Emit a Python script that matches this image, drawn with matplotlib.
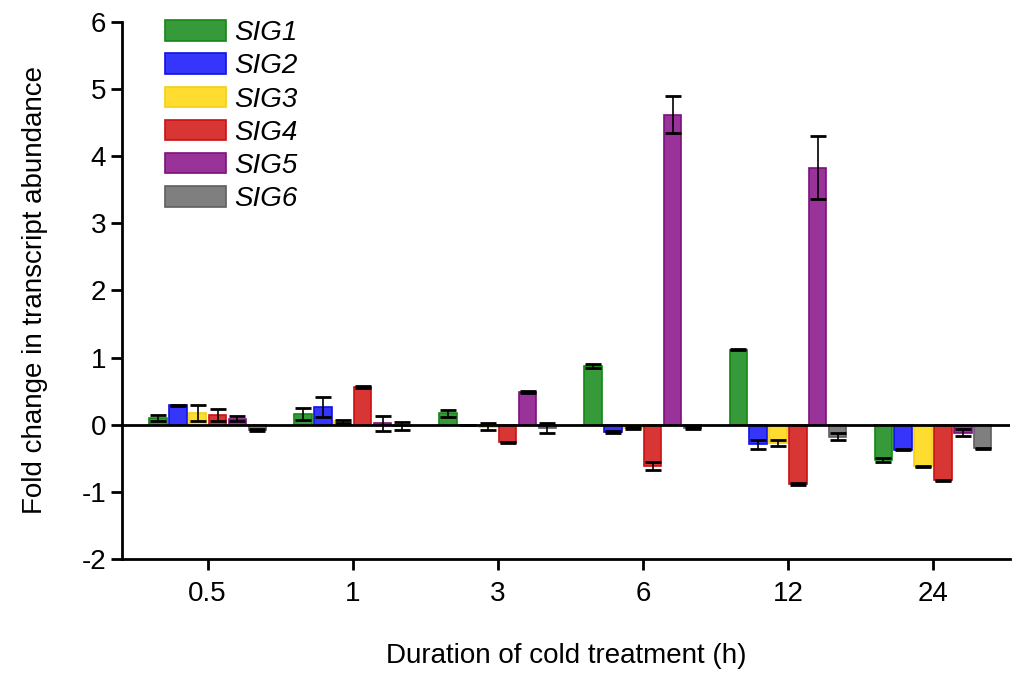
import matplotlib.pyplot as plt
import numpy as np

plt.rcParams['font.family'] = ['Liberation Sans', 'DejaVu Sans']
plt.rcParams['axes.unicode_minus'] = False

# durations (h) and fold change of each SIG gene
durations = ['0.5', '1', '3', '6', '12', '24']
genes = ['SIG1', 'SIG2', 'SIG3', 'SIG4', 'SIG5', 'SIG6']

sig1 = [0.10, 0.16, 0.17, 0.88, 1.12, -0.52]
sig2 = [0.29, 0.27, 0.00, -0.11, -0.29, -0.37]
sig3 = [0.18, 0.05, -0.03, -0.05, -0.27, -0.62]
sig4 = [0.15, 0.56, -0.26, -0.61, -0.88, -0.83]
sig5 = [0.09, 0.02, 0.49, 4.62, 3.83, -0.12]
sig6 = [-0.08, -0.02, -0.05, -0.05, -0.18, -0.35]

err1 = [0.05, 0.09, 0.05, 0.03, 0.01, 0.03]
err2 = [0.01, 0.15, 0.00, 0.01, 0.07, 0.01]
err3 = [0.12, 0.02, 0.05, 0.02, 0.05, 0.01]
err4 = [0.09, 0.01, 0.01, 0.06, 0.01, 0.01]
err5 = [0.04, 0.11, 0.01, 0.27, 0.47, 0.05]
err6 = [0.01, 0.06, 0.07, 0.02, 0.05, 0.01]

values = [sig1, sig2, sig3, sig4, sig5, sig6]
errors = [err1, err2, err3, err4, err5, err6]
fills = ['#36993a', '#3535fb', '#ffdc30', '#d83535', '#993399', '#7f7f7f']
edges = ['#138813', '#1010e8', '#f5cf10', '#cc1010', '#7d107d', '#5f5f5f']

fig = plt.figure(figsize=(10.17, 6.74), dpi=100)
ax = fig.add_axes([0.12, 0.1706, 0.873, 0.7968])

x = np.arange(len(durations))
step = 0.137
w = 0.12
for i in range(6):
    pos = x + (i - 2.5) * step
    ax.bar(pos, values[i], w, color=fills[i], edgecolor=edges[i], linewidth=1.2,
           label=genes[i], zorder=2)
    ax.errorbar(pos, values[i], yerr=errors[i], fmt='none', ecolor='black',
                elinewidth=1.2, capsize=6, capthick=2, zorder=3)

ax.axhline(0, color='black', linewidth=2, zorder=4)

ax.set_xlim(-0.59, 5.53)
ax.set_ylim(-2, 6)
ax.set_xticks(x)
ax.set_xticklabels(durations)
ax.set_yticks(range(-2, 7))
ax.tick_params(axis='both', labelsize=20, width=2, length=8, direction='out')
ax.tick_params(axis='x', pad=8)
for s in ['top', 'right']:
    ax.spines[s].set_visible(False)
for s in ['left', 'bottom']:
    ax.spines[s].set_linewidth(2)

ax.set_ylabel('Fold change in transcript abundance', fontsize=20, labelpad=24)
ax.set_xlabel('Duration of cold treatment (h)', fontsize=20, labelpad=26)

leg = ax.legend(loc='upper left', bbox_to_anchor=(0.02, 1.05), frameon=False,
                prop={'style': 'italic', 'size': 20}, handlelength=2.2,
                handleheight=0.75, labelspacing=0.26, handletextpad=0.3)

fig.savefig('out.png', dpi=100)
